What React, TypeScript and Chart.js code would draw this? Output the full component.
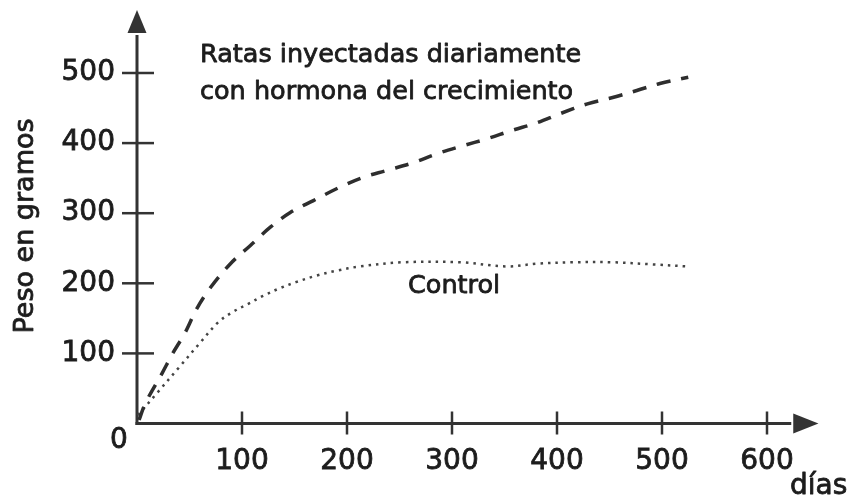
import React, { useEffect, useRef } from "react";
import { Chart, registerables } from "chart.js";

Chart.register(...registerables);

// ---- data ----
const hormoneDays = [2, 8, 24, 34, 46, 57, 70, 89, 108, 127, 146, 168, 193, 215, 238, 263, 286, 310, 333, 357, 381, 403, 429, 453, 476, 498, 525];
const hormoneWeight = [5, 29, 72, 100, 130, 164, 194, 228, 254, 280, 301, 318, 337, 351, 361, 372, 385, 396, 406, 418, 429, 442, 456, 465, 475, 485, 494];

const controlDays = [1, 20, 40, 60, 77, 90, 105, 120, 136, 152, 171, 190, 212, 253, 308, 352, 381, 415, 453, 491, 525];
const controlWeight = [12, 45, 80, 115, 144, 158, 170, 182, 193, 202, 211, 218, 224, 230, 230, 224, 228, 230, 230, 227, 224];

const xTickValues = [100, 200, 300, 400, 500, 600];
const yTickValues = [100, 200, 300, 400, 500];

const titleLine1 = "Ratas inyectadas diariamente";
const titleLine2 = "con hormona del crecimiento";
const controlLabel = "Control";
const yTitle = "Peso en gramos";
const xTitle = "días";

const FONT = "'DejaVu Sans', sans-serif";
const INK = "#1c1c1c";
const AXIS = "#333";
const STROKE_W = 0.8;

function heavyText(ctx: CanvasRenderingContext2D, s: string, x: number, y: number) {
  ctx.strokeText(s, x, y);
  ctx.fillText(s, x, y);
}

const axesPlugin = {
  id: "handAxes",
  beforeDatasetsDraw(chart: any) {
    const { ctx } = chart;
    const xs = chart.scales.x;
    const ys = chart.scales.y;
    const x0 = xs.getPixelForValue(0);
    const y0 = ys.getPixelForValue(0);
    const yTip = ys.getPixelForValue(590);
    const yBase = ys.getPixelForValue(557);
    const xTip = xs.getPixelForValue(649);
    const xBase = xs.getPixelForValue(625);
    ctx.save();
    ctx.strokeStyle = AXIS;
    ctx.fillStyle = AXIS;
    ctx.lineWidth = 3;
    ctx.lineCap = "butt";
    // y axis
    ctx.beginPath();
    ctx.moveTo(x0, y0 + 1.5);
    ctx.lineTo(x0, yBase + 2);
    ctx.stroke();
    ctx.beginPath();
    ctx.moveTo(x0, yTip);
    ctx.lineTo(x0 - 9.5, yBase);
    ctx.lineTo(x0 + 9.5, yBase);
    ctx.closePath();
    ctx.fill();
    // x axis
    ctx.beginPath();
    ctx.moveTo(x0 - 1.5, y0);
    ctx.lineTo(xBase - 2, y0);
    ctx.stroke();
    ctx.beginPath();
    ctx.moveTo(xTip, y0);
    ctx.lineTo(xBase, y0 - 10);
    ctx.lineTo(xBase, y0 + 10);
    ctx.closePath();
    ctx.fill();
    // tick marks
    ctx.lineWidth = 2.5;
    ys.ticks.forEach((t: any) => {
      if (t.value === 0) return;
      const py = ys.getPixelForValue(t.value);
      ctx.beginPath();
      ctx.moveTo(x0 - 15, py);
      ctx.lineTo(x0 + 17, py);
      ctx.stroke();
    });
    xs.ticks.forEach((t: any) => {
      if (t.value === 0) return;
      const px = xs.getPixelForValue(t.value);
      ctx.beginPath();
      ctx.moveTo(px, y0 - 12);
      ctx.lineTo(px, y0 + 11);
      ctx.stroke();
    });
    ctx.restore();
  },
  afterDraw(chart: any) {
    const { ctx } = chart;
    const xs = chart.scales.x;
    const ys = chart.scales.y;
    const x0 = xs.getPixelForValue(0);
    const y0 = ys.getPixelForValue(0);
    ctx.save();
    ctx.fillStyle = INK;
    ctx.strokeStyle = INK;
    ctx.lineWidth = STROKE_W;
    ctx.lineJoin = "round";
    ctx.textBaseline = "alphabetic";
    ctx.textAlign = "left";
    ctx.font = `25.5px ${FONT}`;
    heavyText(ctx, titleLine1, 200, 62);
    heavyText(ctx, titleLine2, 200, 99);
    heavyText(ctx, controlLabel, 408, 293);
    // origin label
    ctx.font = `28px ${FONT}`;
    ctx.textAlign = "center";
    heavyText(ctx, "0", x0 - 18, y0 + 24);
    // x title
    ctx.textAlign = "left";
    heavyText(ctx, xTitle, 790, 494);
    // y title
    ctx.font = `27px ${FONT}`;
    ctx.translate(33, 226);
    ctx.rotate(-Math.PI / 2);
    ctx.textAlign = "center";
    heavyText(ctx, yTitle, 0, 0);
    ctx.restore();
  },
};

export default function App() {
  const ref = useRef<HTMLCanvasElement | null>(null);
  useEffect(() => {
    document.body.style.margin = "0";
    const canvas = ref.current;
    if (!canvas) return;
    const chart = new Chart(canvas, {
      type: "line",
      data: {
        datasets: [
          {
            label: titleLine1 + " " + titleLine2,
            data: hormoneDays.map((d, i) => ({ x: d, y: hormoneWeight[i] })),
            borderColor: "#2e2e2e",
            borderWidth: 3.5,
            borderDash: [14, 11],
            pointRadius: 0,
            tension: 0.35,
            fill: false,
          },
          {
            label: controlLabel,
            data: controlDays.map((d, i) => ({ x: d, y: controlWeight[i] })),
            borderColor: "#444",
            borderWidth: 2.5,
            borderDash: [2.5, 5],
            pointRadius: 0,
            tension: 0.35,
            fill: false,
          },
        ],
      },
      options: {
        animation: false,
        responsive: false,
        devicePixelRatio: 1,
        layout: { padding: { top: 73, right: 85, left: 0, bottom: 0 } },
        plugins: {
          legend: { display: false },
          tooltip: { enabled: false },
        },
        scales: {
          x: {
            type: "linear",
            min: 0,
            max: 600,
            grid: { display: false, drawTicks: false },
            border: { display: false },
            afterBuildTicks: (s: any) => {
              s.ticks = [0, ...xTickValues].map((v) => ({ value: v }));
            },
            ticks: {
              padding: 21,
              color: INK,
              textStrokeColor: INK,
              textStrokeWidth: STROKE_W,
              font: { family: FONT, size: 28 },
              maxRotation: 0,
              autoSkip: false,
              callback: (v: any) => (v === 0 ? "" : String(v)),
            },
            afterFit: (s: any) => {
              s.height = 74.5;
            },
          },
          y: {
            type: "linear",
            min: 0,
            max: 500,
            grid: { display: false, drawTicks: false },
            border: { display: false },
            afterBuildTicks: (s: any) => {
              s.ticks = [0, ...yTickValues].map((v) => ({ value: v }));
            },
            ticks: {
              padding: 22,
              color: INK,
              textStrokeColor: INK,
              textStrokeWidth: STROKE_W,
              font: { family: FONT, size: 28 },
              autoSkip: false,
              callback: (v: any) => (v === 0 ? "" : String(v)),
            },
            afterFit: (s: any) => {
              s.width = 137;
            },
          },
        },
      },
      plugins: [axesPlugin],
    } as any);
    return () => chart.destroy();
  }, []);
  return (
    <div style={{ position: "absolute", left: 0, top: 0, width: 852, height: 498, background: "#fff" }}>
      <canvas ref={ref} width={852} height={498} style={{ display: "block" }} />
    </div>
  );
}
